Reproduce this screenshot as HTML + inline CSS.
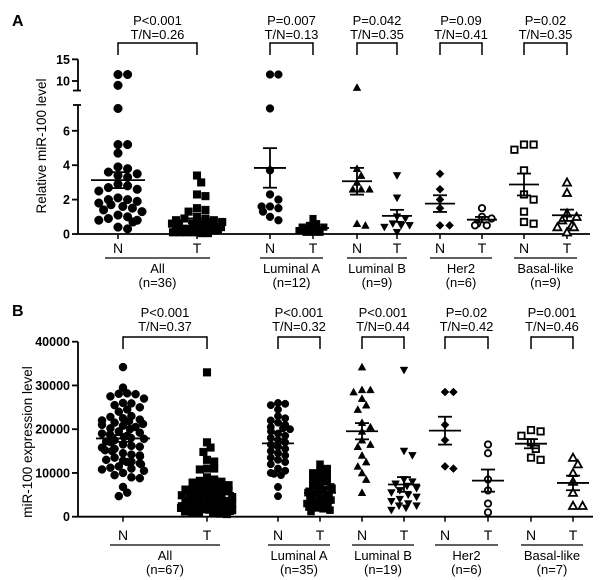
<!DOCTYPE html>
<html><head><meta charset="utf-8"><style>
html,body{margin:0;padding:0;background:#fff;}
svg{display:block;font-family:"Liberation Sans",Arial,sans-serif;}
</style></head><body>
<svg id="chart" width="600" height="580" viewBox="0 0 600 580" xmlns="http://www.w3.org/2000/svg">
<text x="12" y="26" font-size="16" font-weight="bold">A</text>
<text x="12" y="316" font-size="16" font-weight="bold">B</text>
<text transform="translate(46,146) rotate(-90)" text-anchor="middle" font-size="13.5">Relative miR-100 level</text>
<text transform="translate(32,442) rotate(-90)" text-anchor="middle" font-size="13.5">miR-100 expression level</text>
<g id="layer"></g>
</svg>
<script>
// ---- Panel A data ----
const groupsA = ["All","Luminal A","Luminal B","Her2","Basal-like"];
const nLabelsA = ["(n=36)","(n=12)","(n=9)","(n=6)","(n=9)"];
const pLabelsA = ["P<0.001","P=0.007","P=0.042","P=0.09","P=0.02"];
const ratioLabelsA = ["T/N=0.26","T/N=0.13","T/N=0.35","T/N=0.41","T/N=0.35"];
const ticksA = [0,2,4,6,10,15];
const allN_A = [11.5,11.5,9,7.3,5.2,5.2,4.7,3.9,3.8,3.6,3.5,3.4,3.3,2.9,2.8,2.7,2.6,2.5,2.1,2.0,2.0,1.9,1.8,1.7,1.6,1.5,1.4,1.3,1.1,1.0,0.9,0.8,0.8,0.7,0.4,0.3];
const allT_A = [3.4,3.0,2.3,2.2,1.5,1.4,1.3,1.0,0.9,0.9,0.8,0.8,0.7,0.7,0.6,0.6,0.6,0.5,0.5,0.5,0.4,0.4,0.4,0.3,0.3,0.3,0.3,0.2,0.2,0.2,0.1,0.1,0.1,0.1,0.05,0.05];
const lumAN_A = [11.5,11.5,7.3,3.7,2.3,2.0,1.6,1.6,1.5,1.3,1.0,0.8];
const lumAT_A = [0.9,0.6,0.5,0.4,0.4,0.3,0.3,0.2,0.2,0.1,0.1,0.1];
const lumBN_A = [8.5,3.8,3.4,3.0,2.6,2.6,2.6,0.5,0.6];
const lumBT_A = [3.4,2.1,1.0,0.9,0.6,0.5,0.5,0.4,0.1];
const her2N_A = [3.5,2.6,2.0,1.5,0.5,0.5];
const her2T_A = [1.5,1.0,0.9,0.6,0.5,0.5];
const basalN_A = [5.2,5.2,4.9,3.7,2.0,2.3,1.3,0.6,0.7];
const basalT_A = [3.0,2.4,1.2,1.0,0.8,0.5,0.4,0.4,0.1];
// ---- Panel B data ----
const groupsB = ["All","Luminal A","Luminal B","Her2","Basal-like"];
const nLabelsB = ["(n=67)","(n=35)","(n=19)","(n=6)","(n=7)"];
const pLabelsB = ["P<0.001","P<0.001","P<0.001","P=0.02","P=0.001"];
const ratioLabelsB = ["T/N=0.37","T/N=0.32","T/N=0.44","T/N=0.42","T/N=0.46"];
const ticksB = [0,10000,20000,30000,40000];
const allN_B = [34200,29500,28200,28000,28100,27500,27000,26000,25900,25500,25000,24500,24000,23000,22800,22500,22200,22000,21800,21500,21200,21000,20800,20500,20200,20000,19500,19200,19000,18800,18500,18200,18000,17800,17500,17200,17000,16500,16200,16000,15800,15500,15200,15000,14500,14200,14000,13800,13500,13000,12800,12600,12500,12200,12000,11500,11200,11000,10800,10500,10000,9500,9000,8800,6800,5500,4700];
const allT_B = [33000,17000,15800,14800,13000,12600,11000,11000,10800,9000,8500,8200,8000,7800,7500,7200,7000,6800,6600,6400,6200,6000,5800,5600,5400,5200,5000,4900,4800,4600,4500,4400,4200,4000,3900,3800,3600,3500,3400,3200,3000,3000,2900,2800,2700,2600,2500,2400,2300,2200,2100,2000,2000,1900,1800,1700,1600,1500,1400,1300,1200,1100,1000,900,800,700,600];
const lumAN_B = [26000,25800,25500,24500,23000,22500,22000,21500,21000,20500,20200,20000,19500,19000,18500,18000,17500,17000,16500,16000,15500,15000,14500,14000,13500,13000,12500,12000,11000,10500,10000,9800,9500,6800,4700];
const lumAT_B = [12000,11000,10500,10000,9500,9000,8500,8000,7500,7000,6800,6500,6200,6000,5800,5500,5200,5000,4800,4500,4200,4000,3800,3600,3400,3200,3000,2800,2600,2400,2200,2000,1800,1500,1200];
const lumBN_B = [34200,29000,29000,28500,27000,25500,24500,21500,20500,19500,17500,16500,16000,14000,12500,11500,10000,8500,5500];
const lumBT_B = [33500,15000,14000,8500,8000,7500,7000,6500,6000,5500,5000,4500,4000,3500,3000,2500,2500,2000,1500];
const her2N_B = [28500,28500,21000,17500,11500,11000];
const her2T_B = [16500,14500,8500,6000,3000,1000];
const basalN_B = [19800,19500,18500,17000,15500,13500,13000];
const basalT_B = [13500,12000,10000,8000,5500,2500,2500];

const NS="http://www.w3.org/2000/svg";
const layer=document.getElementById('layer');
function mk(tag,attrs,parent){const e=document.createElementNS(NS,tag);for(const k in attrs)e.setAttribute(k,attrs[k]);(parent||layer).appendChild(e);return e;}
function line(x1,y1,x2,y2,w,name,p){const e=mk('line',{x1,y1,x2,y2,stroke:'#000','stroke-width':w||1.5},p);

return e;}
function txt(x,y,s,size,name,opts){const e=mk('text',Object.assign({x,y,'font-size':size,'text-anchor':'middle'},opts||{}));e.textContent=s;

return e;}

function yA(v){ if(v<=7.6) return 234 - v*17.2; return 81 - (v-10)*4.33; }
function yB(v){ return 516.7 - v/40000*175; }

function marker(shape,x,y,s,g){
  let e;
  const open=shape[0]==='o';
  const st={fill:open?'#fff':'#000',stroke:'#000','stroke-width':open?1.8:0.5};
  if(shape==='circle'||shape==='ocircle') e=mk('circle',Object.assign({cx:x,cy:y,r:open?s-0.8:s},st),g);
  else if(shape==='square'||shape==='osquare'){const h=open?s-0.8:s*0.95;e=mk('rect',Object.assign({x:x-h,y:y-h,width:2*h,height:2*h},st),g);}
  else if(shape==='tri'||shape==='otri'){const h=open?s:s*1.1;e=mk('polygon',Object.assign({points:`${x},${y-h} ${x+h},${y+h*0.8} ${x-h},${y+h*0.8}`},st),g);}
  else if(shape==='invtri'){const h=s*1.1;e=mk('polygon',Object.assign({points:`${x},${y+h} ${x+h},${y-h*0.8} ${x-h},${y-h*0.8}`},st),g);}
  else if(shape==='diamond'){const h=s*1.15;e=mk('polygon',Object.assign({points:`${x},${y-h} ${x+h},${y} ${x},${y+h} ${x-h},${y}`},st),g);}
  
  
}

function swarm(vals,cx,yf,shape,s,maxOff,minD,meanW,capW,name){
  const g=mk('g',{});
  
  
  const pts=vals.map(v=>({v,y:yf(v)})).sort((a,b)=>a.y-b.y);
  const placed=[];
  const step=minD*0.6;
  for(const p of pts){
    let best=0,found=false;
    for(let k=0;k<40;k++){
      const off=(k%2?1:-1)*Math.ceil(k/2)*step;
      if(Math.abs(off)>maxOff) continue;
      if(placed.every(q=>Math.hypot(q.x-(cx+off),q.y-p.y)>=minD)){best=off;found=true;break;}
    }
    if(!found){best=((placed.length*7)%(2*maxOff))-maxOff;}
    placed.push({x:cx+best,y:p.y});
  }
  placed.forEach(p=>marker(shape,p.x,p.y,s,g));
  const n=vals.length, mean=vals.reduce((a,b)=>a+b,0)/n;
  const sd=Math.sqrt(vals.reduce((a,b)=>a+(b-mean)*(b-mean),0)/(n-1)), sem=sd/Math.sqrt(n);
  line(cx-meanW,yf(mean),cx+meanW,yf(mean),1.8,'mean-line',g);
  line(cx,yf(mean+sem),cx,yf(Math.max(mean-sem,0)),1.8,'sem-bar',g);
  line(cx-capW,yf(mean+sem),cx+capW,yf(mean+sem),1.8,'sem-cap-upper',g);
  line(cx-capW,yf(Math.max(mean-sem,0)),cx+capW,yf(Math.max(mean-sem,0)),1.8,'sem-cap-lower',g);
}

function panel(cfg){
  const {yf,x0,xEnd,base,ticks,tickLbl,xs,groups,nl,pl,rl,textY,brY,lblY,series,isA}=cfg;
  if(isA){
    line(x0,yA(0),x0,yA(7.5),1.8,'y-axis-lower');
    line(x0,yA(7.8),x0,yA(15),1.8,'y-axis-upper');
    line(x0-5,yA(7.5),x0+3,yA(7.5),1.8,'axis-break-lower');
    line(x0-5,yA(7.8),x0+3,yA(7.8),1.8,'axis-break-upper');
  } else line(x0,yf(0),x0,yf(ticks[ticks.length-1]),1.8,'y-axis');
  ticks.forEach(t=>{line(x0-6,yf(t),x0,yf(t),1.8,'y-tick');
    txt(x0-8,yf(t)+4.5,tickLbl(t),12.5,'y-tick-label',{'text-anchor':'end','font-weight':'bold'});});
  line(x0,base,xEnd,base,1.8,'x-axis');
  groups.forEach((gname,i)=>{
    const xN=xs[i][0],xT=xs[i][1],mid=(xN+xT)/2;
    line(xN,base,xN,base+5,1.5,'x-tick');line(xT,base,xT,base+5,1.5,'x-tick');
    txt(xN,lblY,'N',14,'x-label-n');txt(xT,lblY,'T',14,'x-label-t');
    const ext=i===0?13:10;
    line(xN-ext,lblY+5,xT+ext,lblY+5,1.3,'group-underline');
    txt(mid,lblY+20,gname,13,'group-name');
    txt(mid,lblY+34,nl[i],13,'group-n');
    txt(mid,textY,pl[i],13,'p-value');
    txt(mid,textY+14,rl[i],13,'ratio-label');
    line(xN,brY,xT,brY,1.5,'bracket-top');
    line(xN,brY-0.7,xN,brY+12,1.5,'bracket-leg');
    line(xT,brY-0.7,xT,brY+12,1.5,'bracket-leg');
  });
  series.forEach(s=>swarm(s.v,s.x,yf,s.shape,s.sz,s.off,s.d,s.mw,s.cw,s.name));
}

panel({yf:yA,x0:78,xEnd:590,base:234,ticks:ticksA,tickLbl:t=>String(t),
  xs:[[118,197],[270,313],[357,397],[440,482],[524,567]],groups:groupsA,nl:nLabelsA,pl:pLabelsA,rl:ratioLabelsA,
  textY:25,brY:43,lblY:253,isA:true,
  series:[
   {v:allN_A,x:118,shape:'circle',sz:4.3,off:24,d:8,mw:27,cw:9,name:'all-normal'},
   {v:allT_A,x:197,shape:'square',sz:4,off:26,d:7,mw:27,cw:9,name:'all-tumor'},
   {v:lumAN_A,x:270,shape:'circle',sz:3.9,off:14,d:7,mw:16,cw:7,name:'luminal-a-normal'},
   {v:lumAT_A,x:313,shape:'square',sz:3.5,off:14,d:6,mw:16,cw:7,name:'luminal-a-tumor'},
   {v:lumBN_A,x:357,shape:'tri',sz:3.5,off:14,d:7,mw:15,cw:7,name:'luminal-b-normal'},
   {v:lumBT_A,x:397,shape:'invtri',sz:3.5,off:14,d:7,mw:15,cw:7,name:'luminal-b-tumor'},
   {v:her2N_A,x:440,shape:'diamond',sz:3.5,off:14,d:8,mw:15,cw:7,name:'her2-normal'},
   {v:her2T_A,x:482,shape:'ocircle',sz:4,off:14,d:8,mw:15,cw:7,name:'her2-tumor'},
   {v:basalN_A,x:524,shape:'osquare',sz:4,off:14,d:8,mw:15,cw:7,name:'basal-normal'},
   {v:basalT_A,x:567,shape:'otri',sz:4,off:14,d:8,mw:15,cw:7,name:'basal-tumor'}]});

panel({yf:yB,x0:78,xEnd:593,base:516.7,ticks:ticksB,tickLbl:t=>String(t),
  xs:[[123,207],[278,320],[362,404],[445,488],[531,573]],groups:groupsB,nl:nLabelsB,pl:pLabelsB,rl:ratioLabelsB,
  textY:317,brY:337,lblY:540,isA:false,
  series:[
   {v:allN_B,x:123,shape:'circle',sz:4,off:24,d:7,mw:27,cw:9,name:'all-normal'},
   {v:allT_B,x:207,shape:'square',sz:4,off:26,d:6,mw:27,cw:9,name:'all-tumor'},
   {v:lumAN_B,x:278,shape:'circle',sz:3.7,off:13,d:6,mw:16,cw:7,name:'luminal-a-normal'},
   {v:lumAT_B,x:320,shape:'square',sz:3.7,off:13,d:6,mw:16,cw:7,name:'luminal-a-tumor'},
   {v:lumBN_B,x:362,shape:'tri',sz:3.5,off:13,d:7,mw:16,cw:7,name:'luminal-b-normal'},
   {v:lumBT_B,x:404,shape:'invtri',sz:3.5,off:13,d:7,mw:16,cw:7,name:'luminal-b-tumor'},
   {v:her2N_B,x:445,shape:'diamond',sz:3.5,off:10,d:7,mw:16,cw:7,name:'her2-normal'},
   {v:her2T_B,x:488,shape:'ocircle',sz:4,off:10,d:8,mw:16,cw:7,name:'her2-tumor'},
   {v:basalN_B,x:531,shape:'osquare',sz:4,off:12,d:8,mw:16,cw:7,name:'basal-normal'},
   {v:basalT_B,x:573,shape:'otri',sz:4,off:12,d:8,mw:16,cw:7,name:'basal-tumor'}]});
</script>
</body></html>
